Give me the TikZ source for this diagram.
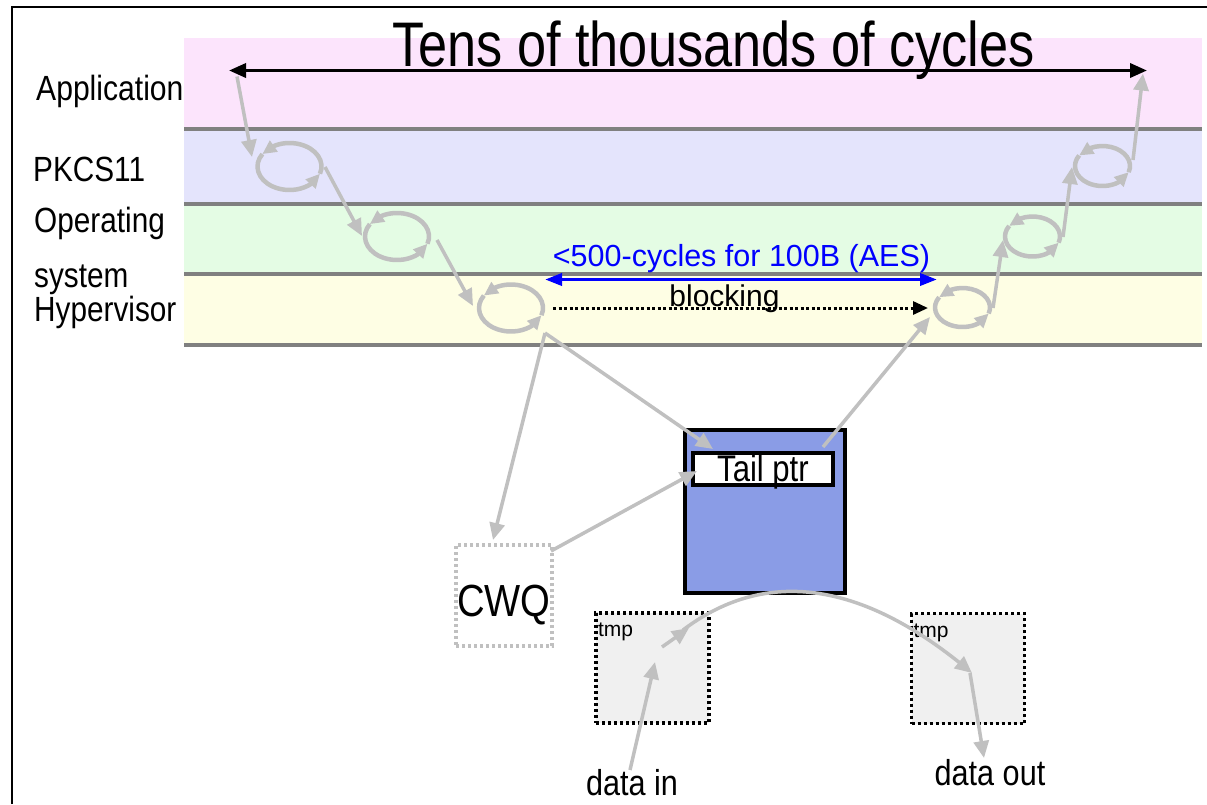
\documentclass[tikz,border=0pt]{standalone}
\usepackage{fontspec}
\setmainfont{Liberation Sans}
\usetikzlibrary{arrows.meta,bending,shapes.geometric,calc}
\definecolor{apppink}{RGB}{252,228,252}
\definecolor{pkcsblue}{RGB}{228,228,252}
\definecolor{osgreen}{RGB}{228,252,228}
\definecolor{hypyellow}{RGB}{254,254,228}
\definecolor{sepgray}{RGB}{128,128,128}
\definecolor{conngray}{RGB}{192,192,192}
\definecolor{boxblue}{RGB}{138,156,230}
\definecolor{tmpgray}{RGB}{240,240,240}
\newcommand{\sx}[2]{\scalebox{#1}[1]{#2}}
\newcommand{\fs}[1]{\fontsize{#1}{#1}\selectfont}
\newcommand{\cycloop}[5]{%
  \node[cyc,minimum width={2*#4pt},minimum height={2*#5pt}] (#1) at (#2,#3) {};
  \draw[looparc] (#1.center) ++(18:#4 and #5) arc[start angle=18,end angle=-148,x radius=#4,y radius=#5];
  \draw[looparc] (#1.center) ++(212:#4 and #5) arc[start angle=212,end angle=18,x radius=#4,y radius=#5];
}
\begin{document}
\begin{tikzpicture}[x=1pt,y=-1pt,
  lbl/.style={anchor=base west,inner sep=0pt,font=\fs{35}},
  txt/.style={anchor=base,inner sep=0pt},
  sepline/.style={draw=sepgray,line width=3.2pt},
  conn/.style={draw=conngray,line width=3.5pt,-{Triangle[length=17pt,width=15pt]}},
  looparc/.style={draw=conngray,line width=4.5pt,-{Triangle[length=14pt,width=13pt,flex]}},
  cyc/.style={ellipse,inner sep=0pt,outer sep=0pt},
  tmpbox/.style={draw=black,fill=tmpgray,line width=3.2pt,dash pattern=on 3pt off 3pt,
    minimum width=113pt,minimum height=110pt,inner sep=0pt},
  tmplbl/.style={anchor=base west,inner sep=0pt,font=\fs{21},xshift=3.5pt,yshift=-25.5pt}
]
\useasboundingbox (0,0) rectangle (1207,804);
\fill[white] (0,0) rectangle (1207,804);
% frame
\draw[line width=2pt] (12,804) -- (12,7) -- (1207,7);
% layer bands
\fill[apppink] (184,38) rectangle (1202,129);
\fill[pkcsblue] (184,129) rectangle (1202,204);
\fill[osgreen] (184,204) rectangle (1202,274);
\fill[hypyellow] (184,274) rectangle (1202,345);
\draw[sepline] (184,129) -- (1202,129);
\draw[sepline] (184,204) -- (1202,204);
\draw[sepline] (184,274) -- (1202,274);
\draw[sepline] (184,345) -- (1202,345);
% layer labels
\node[lbl] (app) at (36,100) {\sx{0.86}{Application}};
\node[lbl] (pkcs) at (33,181.7) {\sx{0.85}{PKCS11}};
\node[lbl] (os1) at (34,232.7) {\sx{0.85}{Operating}};
\node[lbl] (os2) at (34,287) {\sx{0.85}{system}};
\node[lbl] (hyp) at (34,321.7) {\sx{0.85}{Hypervisor}};
% title and span arrow
\node[txt,font=\fs{63}] (title) at (713.5,66.7) {\sx{0.83}{Tens of thousands of cycles}};
\coordinate (ta) at (229,70.5);
\coordinate (tb) at (1147,70.5);
\draw[line width=3.5pt,{Triangle[length=17pt,width=14pt]}-{Triangle[length=17pt,width=14pt]}] (ta) -- (tb);
% AES span
\coordinate (ba) at (545,279.5);
\coordinate (bb) at (937,279.5);
\draw[blue,line width=3.5pt,{Triangle[length=17pt,width=12pt]}-{Triangle[length=17pt,width=12pt]}] (ba) -- (bb);
\node[txt,font=\fs{30.5},text=blue] (aes) at (741.5,266.7) {<500-cycles for 100B (AES)};
% blocking
\coordinate (da) at (553,308);
\coordinate (db) at (928,308);
\draw[line width=3pt,dash pattern=on 3pt off 2.5pt,-{Triangle[length=15pt,width=13pt]}] (da) -- (db);
\node[txt,font=\fs{30}] (blk) at (724.5,306) {blocking};
% loops
\cycloop{l1}{289.5}{166.5}{32}{23.5}
\cycloop{l2}{397}{236.5}{32}{23.5}
\cycloop{l3}{511}{308}{32}{23.5}
\cycloop{l4}{962.5}{307.5}{27.5}{19.5}
\cycloop{l5}{1032.5}{236.5}{27.5}{20}
\cycloop{l6}{1102.5}{166}{27.5}{20}
% boxes
\node[draw=black,fill=boxblue,line width=3.2pt,minimum width=160pt,minimum height=163pt,inner sep=0pt] (dev) at (765,511.5) {};
\node[draw=black,fill=white,line width=3.2pt,minimum width=140pt,minimum height=32pt,inner sep=0pt,
  font=\fs{37},text height=25.4pt,text depth=0pt] (tail) at (763,469) {\sx{0.84}{Tail ptr}};
\node[draw=conngray,fill=white,line width=3.2pt,dash pattern=on 3pt off 3pt,minimum width=96pt,minimum height=101pt,inner sep=0pt,
  font=\fs{45},text height=41pt,text depth=0pt] (cwq) at (504,595.5) {\sx{0.85}{CWQ}};
\node[tmpbox,label={[tmplbl]north west:tmp}] (tmp1) at (652.5,668) {};
\node[tmpbox,label={[tmplbl]north west:tmp}] (tmp2) at (968,668.5) {};
\node[txt,font=\fs{36}] (din) at (632,795) {\sx{0.85}{data in}};
\node[txt,font=\fs{36}] (dout) at (990,785) {\sx{0.85}{data out}};
% connectors
\draw[conn] ($(ta)+(8,6)$) -- ($(l1)+(-37.5,-9.5)$);
\draw[conn] ($(l1)+(35.5,0.5)$) -- ($(l2)+(-35,-0.5)$);
\draw[conn] ($(l2)+(40,3.5)$) -- ($(l3)+(-38,-2)$);
\draw[conn] ($(l3)+(34,25)$) -- ($(cwq)+(-11,-55.5)$);
\draw[conn] ($(l3)+(34,25)$) -- ($(dev)+(-52,-62.5)$);
\draw[conn] ($(cwq)+(47,-44.5)$) -- ($(tail)+(-66,2)$);
\draw[conn] ($(dev)+(58,-64.5)$) -- ($(l4)+(-32.5,9.5)$);
\draw[conn] ($(l4)+(30.5,0.5)$) -- ($(l5)+(-29.5,3.5)$);
\draw[conn] ($(l5)+(30.5,0.5)$) -- ($(l6)+(-30.5,1)$);
\draw[conn] ($(l6)+(30.5,-6)$) -- ($(tb)+(-4,3)$);
% data path
\draw[conn] ($(din.base)+(-2,-25)$) -- ($(tmp1)+(2.5,-6)$);
\draw[conn] ($(tmp1)+(9.5,-21)$) -- ($(tmp1)+(36.5,-40)$);
\draw[conn] ($(tmp1)+(30.5,-38)$) .. controls (765,568) and (862,579.5) .. ($(tmp2)+(4,4.5)$);
\draw[conn] ($(tmp2)+(2,4.5)$) -- ($(dout.base)+(-6,-27)$);
\end{tikzpicture}
\end{document}
